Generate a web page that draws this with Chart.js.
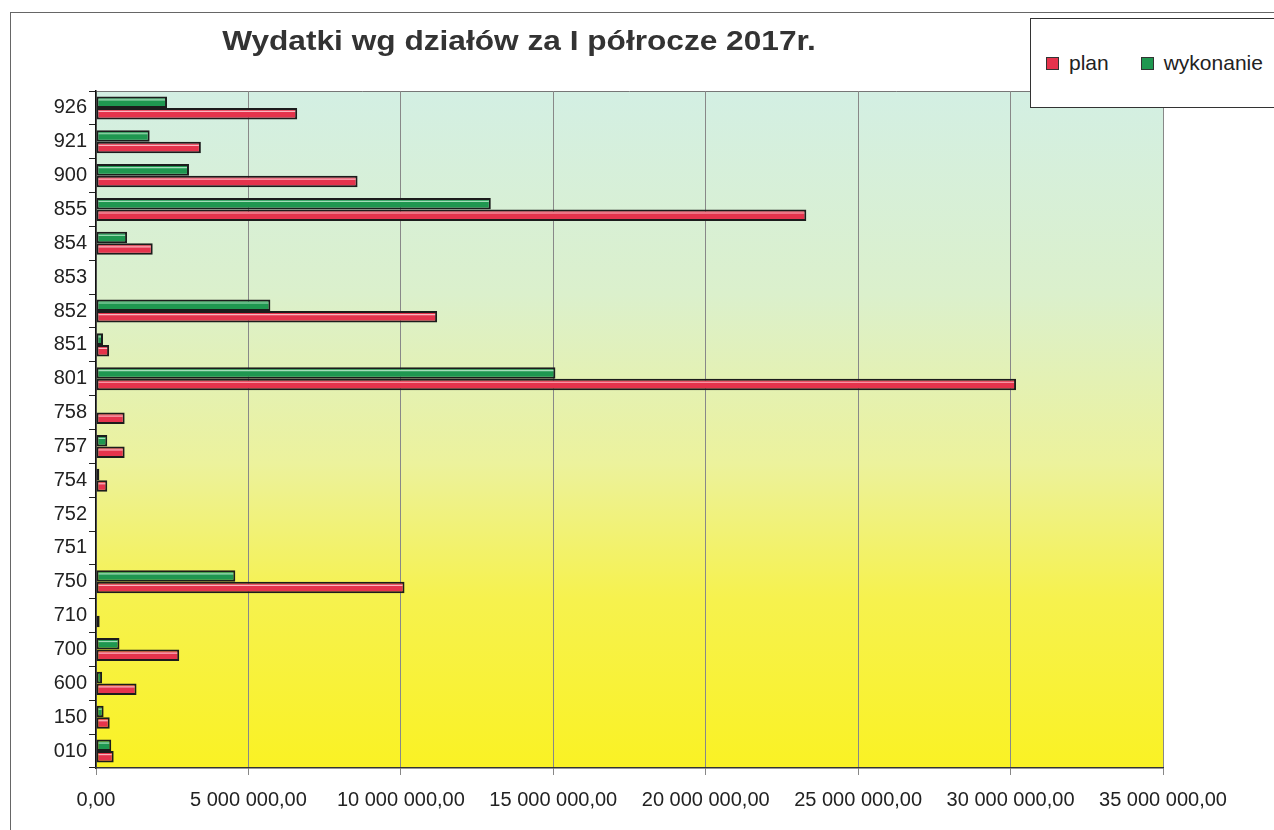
<!DOCTYPE html>
<html>
<head>
<meta charset="utf-8">
<script src="https://cdn.jsdelivr.net/npm/chart.js@4"></script>
<style>
  body { margin: 0; background: #fff; font-family: 'Liberation Sans', Arial, sans-serif; }
  #wrap { position: relative; width: 1274px; height: 830px; overflow: hidden; }
  #frame { position: absolute; left: 10px; top: 12px; width: 1400px; height: 1000px;
           border-left: 1px solid #666; border-top: 1px solid #666; }
  #title { position: absolute; left: 0; width: 1038px; top: 25px; text-align: center;
           font-weight: bold; font-size: 28px; color: #333; transform: scaleX(1.13); transform-origin: 519px 0; }
  #legend { position: absolute; left: 1030px; top: 18px; width: 300px; height: 90px;
            border: 1px solid #333; background: #fff; display: flex; align-items: center;
            padding-left: 15px; box-sizing: border-box; font-size: 21px; color: #222; }
  #legend span.item { display: flex; align-items: center; margin-right: 32px; }
  #legend span.box { display: inline-block; width: 11px; height: 11px; border: 1px solid #333;
                     margin-right: 10px; }
  canvas { position: absolute; left: 0; top: 0; }
</style>
</head>
<body>
<div id="wrap">
  <div id="frame"></div>
  <canvas id="chart" width="1274" height="830"></canvas>
  <div id="title">Wydatki wg działów za I półrocze 2017r.</div>
  <div id="legend"></div>
</div>
<script>
// dział codes, top to bottom
const categories = ['926', '921', '900', '855', '854', '853', '852', '851', '801', '758',
                    '757', '754', '752', '751', '750', '710', '700', '600', '150', '010'];

// plan for the year
const plan = [6600000, 3440000, 8580000, 23300000, 1860000, null, 11190000, 430000, 30180000, 940000,
              940000, 370000, null, null, 10120000, 120000, 2730000, 1330000, 450000, 580000];

// execution in the first half
const wykonanie = [2330000, 1760000, 3050000, 12950000, 1020000, null, 5720000, 230000, 15070000, null,
                   370000, 110000, null, null, 4570000, null, 770000, 200000, 250000, 500000];

const xTicks = { min: 0, max: 35000000, step: 5000000 };

const RED = '#e5334c';
const GREEN = '#1f9750';

function fmt(v) {
  return Math.round(v).toString().replace(/\B(?=(\d{3})+(?!\d))/g, ' ') + ',00';
}

// gradient behind the plot area
const plotBg = {
  id: 'plotBg',
  beforeDraw(chart) {
    const { ctx, chartArea: a } = chart;
    const g = ctx.createLinearGradient(0, a.top, 0, a.bottom);
    g.addColorStop(0, '#d3efe3');
    g.addColorStop(0.3, '#dbf0cc');
    g.addColorStop(0.55, '#ecf29c');
    g.addColorStop(0.75, '#f6f24e');
    g.addColorStop(1, '#faf224');
    ctx.save();
    ctx.fillStyle = g;
    ctx.fillRect(a.left, a.top, a.right - a.left, a.bottom - a.top);
    ctx.strokeStyle = '#777';
    ctx.lineWidth = 1;
    ctx.beginPath();
    ctx.moveTo(a.left, a.top + 0.5);
    ctx.lineTo(a.right, a.top + 0.5);
    ctx.stroke();
    ctx.restore();
  }
};

// light stripe along the top of every bar
const barShine = {
  id: 'barShine',
  afterDatasetsDraw(chart) {
    const ctx = chart.ctx;
    ctx.save();
    chart.data.datasets.forEach((ds, i) => {
      chart.getDatasetMeta(i).data.forEach((el, j) => {
        if (ds.data[j] == null) return;
        const p = el.getProps(['x', 'y', 'base', 'height'], true);
        if (p.x - p.base < 6) return;
        ctx.strokeStyle = ds.shine;
        ctx.lineWidth = 1.2;
        ctx.beginPath();
        ctx.moveTo(p.base + 2, p.y - p.height / 2 + 3.5);
        ctx.lineTo(p.x - 2, p.y - p.height / 2 + 3.5);
        ctx.stroke();
      });
    });
    ctx.restore();
  }
};

const datasets = [
  { label: 'wykonanie', data: wykonanie, backgroundColor: GREEN, borderColor: '#1c1c1c',
    borderWidth: 2, borderSkipped: false, shine: 'rgba(210,245,220,0.75)' },
  { label: 'plan', data: plan, backgroundColor: RED, borderColor: '#1c1c1c',
    borderWidth: 2, borderSkipped: false, shine: 'rgba(255,215,220,0.8)' }
];

new Chart(document.getElementById('chart'), {
  type: 'bar',
  data: { labels: categories, datasets: datasets },
  plugins: [plotBg, barShine],
  options: {
    indexAxis: 'y',
    responsive: false,
    animation: false,
    categoryPercentage: 0.68,
    barPercentage: 1.0,
    layout: { padding: { top: 91, right: 111, bottom: 0, left: 0 } },
    plugins: {
      legend: { display: false },
      title: { display: false },
      tooltip: { enabled: false }
    },
    scales: {
      y: {
        afterFit(s) { s.width = 96; },
        grid: { offset: true, drawOnChartArea: false, tickLength: 7, color: '#222' },
        border: { color: '#111', width: 1.5 },
        ticks: { color: '#222', padding: 2, font: { family: "'Liberation Sans', Arial", size: 20 } }
      },
      x: {
        min: xTicks.min,
        max: xTicks.max,
        afterFit(s) { s.height = 62; },
        grid: { color: '#888', lineWidth: 1, tickLength: 7 },
        border: { color: '#333', width: 1.5 },
        ticks: { stepSize: xTicks.step, color: '#222', padding: 13, maxRotation: 0, autoSkip: false,
                 font: { family: "'Liberation Sans', Arial", size: 20 }, callback: v => fmt(v) }
      }
    }
  }
});

// legend box: plan first, then wykonanie
const legend = document.getElementById('legend');
[datasets[1], datasets[0]].forEach(ds => {
  const item = document.createElement('span');
  item.className = 'item';
  item.innerHTML = '<span class="box" style="background:' + ds.backgroundColor + '"></span>' + ds.label;
  legend.appendChild(item);
});
</script>
</body>
</html>
